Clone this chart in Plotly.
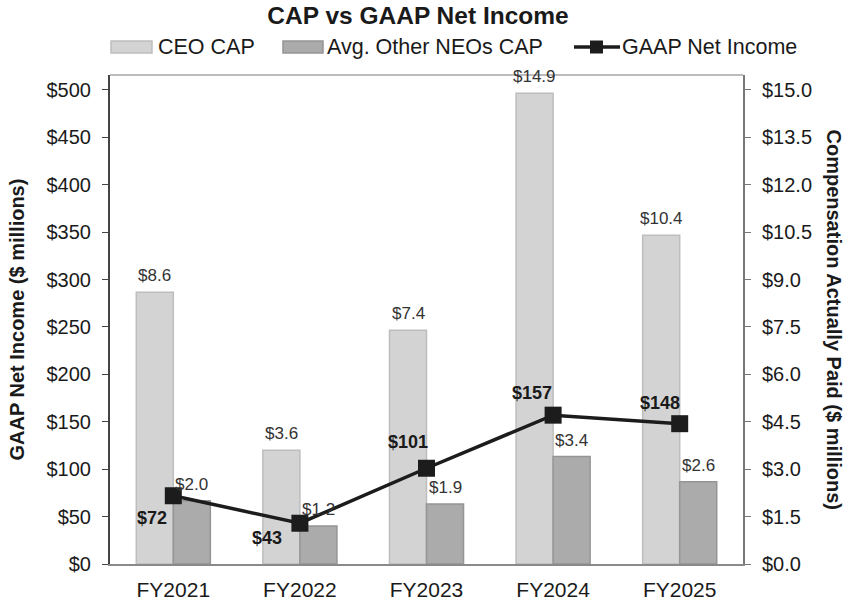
import plotly.graph_objects as go

years = ["FY2021", "FY2022", "FY2023", "FY2024", "FY2025"]
ceo_cap = [8.6, 3.6, 7.4, 14.9, 10.4]
neo_cap = [2.0, 1.2, 1.9, 3.4, 2.6]
net_income = [72, 43, 101, 157, 148]
left_ticks = [0, 50, 100, 150, 200, 250, 300, 350, 400, 450, 500]
right_ticks = [0, 1.5, 3.0, 4.5, 6.0, 7.5, 9.0, 10.5, 12.0, 13.5, 15.0]
series_names = ["CEO CAP", "Avg. Other NEOs CAP", "GAAP Net Income"]
# label offsets (px) for net income labels
ni_dx = [-21, -33, -19, -21, -20]
ni_dy = [-22, -15, 26, 22, 21]

FONT = "Liberation Sans, Arial, sans-serif"
TXT = "#1a1a1a"
CEO_FILL, CEO_LINE = "#d3d3d3", "#bdbdbd"
NEO_FILL, NEO_LINE = "#ababab", "#959595"
NI_COLOR = "#1c1c1c"

# plot-area geometry (px)
L, R, T, B = 110, 743, 75, 564
PW, PH = R - L, B - T


def px_x(px):
    return (px - L) / PW


def px_y(py):
    return (B - py) / PH


fig = go.Figure()
fig.add_trace(go.Bar(
    x=years, y=ceo_cap, name=series_names[0], yaxis="y",
    marker=dict(color=CEO_FILL, line=dict(color=CEO_LINE, width=1.5)),
    offsetgroup="a", showlegend=False,
))
fig.add_trace(go.Bar(
    x=years, y=neo_cap, name=series_names[1], yaxis="y",
    marker=dict(color=NEO_FILL, line=dict(color=NEO_LINE, width=1.5)),
    offsetgroup="b", showlegend=False,
))
fig.add_trace(go.Scatter(
    x=years, y=net_income, name=series_names[2], yaxis="y2",
    mode="lines+markers",
    line=dict(color=NI_COLOR, width=3.5),
    marker=dict(symbol="square", size=17, color=NI_COLOR),
    showlegend=False,
))

annotations = []
bar_w = 37
for i, yr in enumerate(years):
    annotations.append(dict(x=yr, y=ceo_cap[i], xref="x", yref="y",
                            text=f"${ceo_cap[i]:.1f}", showarrow=False,
                            xshift=-bar_w / 2, yshift=5, yanchor="bottom",
                            font=dict(size=17, color="#333", family=FONT)))
    annotations.append(dict(x=yr, y=neo_cap[i], xref="x", yref="y",
                            text=f"${neo_cap[i]:.1f}", showarrow=False,
                            xshift=bar_w / 2, yshift=5, yanchor="bottom",
                            font=dict(size=17, color="#333", family=FONT)))
    annotations.append(dict(x=yr, y=net_income[i], xref="x", yref="y2",
                            text=f"<b>${net_income[i]}</b>", showarrow=False,
                            xshift=ni_dx[i], yshift=ni_dy[i],
                            font=dict(size=18, color=TXT, family=FONT)))

# axis titles
annotations.append(dict(x=px_x(16), y=0.5, xref="paper", yref="paper", xanchor="center",
                        text="<b>GAAP Net Income ($ millions)</b>", showarrow=False,
                        textangle=-90, font=dict(size=20, color=TXT, family=FONT)))
annotations.append(dict(x=px_x(834), y=0.5, xref="paper", yref="paper", xanchor="center",
                        text="<b>Compensation Actually Paid ($ millions)</b>", showarrow=False,
                        textangle=90, font=dict(size=20, color=TXT, family=FONT)))

# custom legend
LEG_Y = 47
shapes = [dict(type="line", xref="paper", yref="paper", x0=0, x1=1, y0=1, y1=1,
               line=dict(color="#bcbcbc", width=2))]
shapes.append(dict(type="rect", xref="paper", yref="paper",
                   x0=px_x(111), x1=px_x(152), y0=px_y(LEG_Y + 6), y1=px_y(LEG_Y - 6),
                   fillcolor=CEO_FILL, line=dict(color=CEO_LINE, width=1.5)))
shapes.append(dict(type="rect", xref="paper", yref="paper",
                   x0=px_x(283), x1=px_x(323), y0=px_y(LEG_Y + 6), y1=px_y(LEG_Y - 6),
                   fillcolor=NEO_FILL, line=dict(color=NEO_LINE, width=1.5)))
shapes.append(dict(type="line", xref="paper", yref="paper",
                   x0=px_x(574), x1=px_x(620), y0=px_y(LEG_Y), y1=px_y(LEG_Y),
                   line=dict(color=NI_COLOR, width=3.5)))
shapes.append(dict(type="rect", xref="paper", yref="paper",
                   x0=px_x(590), x1=px_x(603), y0=px_y(LEG_Y + 6.5), y1=px_y(LEG_Y - 6.5),
                   fillcolor=NI_COLOR, line=dict(color=NI_COLOR, width=0)))
for name, xpx in zip(series_names, [156, 325, 620]):
    annotations.append(dict(x=px_x(xpx), y=px_y(LEG_Y), xref="paper", yref="paper",
                            xanchor="left", yanchor="middle", text=name, showarrow=False,
                            font=dict(size=21.5, color=TXT, family=FONT)))

fig.update_layout(
    width=852, height=603,
    margin=dict(l=L, r=852 - R, t=T, b=603 - B),
    paper_bgcolor="white", plot_bgcolor="white",
    font=dict(family=FONT, color=TXT, size=20),
    title=dict(text="<b>CAP vs GAAP Net Income</b>", x=418 / 852, xanchor="center",
               y=1 - 15 / 603, yanchor="middle",
               font=dict(size=24.5, color=TXT, family=FONT)),
    barmode="group", bargap=0.415, bargroupgap=0,
    showlegend=False,
    xaxis=dict(showline=True, linecolor="#8a8a8a", linewidth=2, ticks="",
               ticklabelstandoff=6, automargin=False,
               tickfont=dict(size=21, color=TXT), showgrid=False),
    yaxis=dict(side="right", range=[0, 15 * 515.8 / 500], tickvals=right_ticks,
               ticktext=[f"${v:.1f}" for v in right_ticks],
               showline=True, linecolor="#777", linewidth=2, ticks="outside",
               ticklen=6, tickcolor="#777", showgrid=False, zeroline=False,
               ticklabelstandoff=7, automargin=False,
               tickfont=dict(size=20, color=TXT)),
    yaxis2=dict(side="left", overlaying="y", range=[0, 515.8], tickvals=left_ticks,
                ticktext=[f"${v}" for v in left_ticks],
                showline=True, linecolor="#444", linewidth=2, ticks="outside",
                ticklen=6, tickcolor="#444", showgrid=False, zeroline=False,
                ticklabelstandoff=7, automargin=False,
                tickfont=dict(size=20, color=TXT)),
    annotations=annotations,
    shapes=shapes,
)

fig.write_html("out.html")
